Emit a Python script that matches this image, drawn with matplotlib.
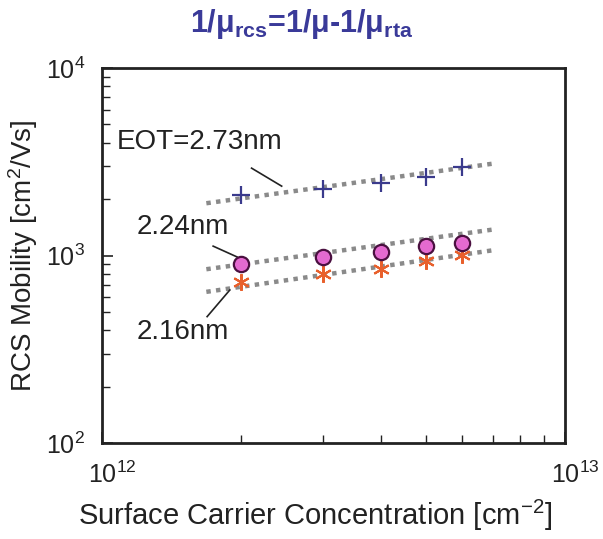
import math

import matplotlib
matplotlib.use("Agg")
import matplotlib.pyplot as plt
from matplotlib.ticker import LogLocator, FixedLocator, FuncFormatter, NullFormatter
from matplotlib.transforms import ScaledTranslation, blended_transform_factory

plt.rcParams["font.family"] = ["Liberation Sans", "DejaVu Sans"]
plt.rcParams["mathtext.fontset"] = "custom"
plt.rcParams["mathtext.rm"] = "Liberation Sans"
plt.rcParams["mathtext.default"] = "regular"

# surface carrier concentration [cm-2]
ns = [2e12, 3e12, 4e12, 5e12, 6e12]
# RCS mobility [cm2/Vs]
mu_273 = [2100, 2255, 2450, 2630, 2950]
mu_224 = [900, 985, 1045, 1125, 1160]
mu_216 = [725, 795, 845, 940, 1005]

# dotted fit lines (end points)
fit_x = [1.68e12, 7.05e12]
fit_273 = [1900, 3100]
fit_224 = [845, 1380]
fit_216 = [640, 1070]

x_major = [1e12, 1e13]
y_major = [1e2, 1e3, 1e4]

TXT = "#222222"

fig = plt.figure(figsize=(6.03, 5.39), dpi=100, facecolor="white")
ax = fig.add_axes([0.1692, 0.1781, 0.7678, 0.6957])
ax.set_xscale("log")
ax.set_yscale("log")
ax.set_xlim(1e12, 1e13)
ax.set_ylim(1e2, 1e4)

dot_style = dict(color="#8a8a8a", lw=3.2, ls=(0, (1, 1.2)), dash_capstyle="butt", zorder=2)
ax.plot(fit_x, fit_273, **dot_style)
ax.plot(fit_x, fit_224, **dot_style)
ax.plot(fit_x, fit_216, **dot_style)

ax.plot(ns, mu_273, ls="none", marker="+", ms=13, mew=1.6, color="#3a3a8c", zorder=3)
ax.plot(ns, mu_216, ls="none", marker=(6, 2, 0), ms=12, mew=1.5, color="#e8602c", zorder=3)
ax.plot(ns, mu_224, ls="none", marker="o", ms=11, mew=1.6, mfc="#e46ad0", mec="#4a1040", zorder=4)

# annotations
ax.text(0.032, 0.803, "EOT=2.73nm", transform=ax.transAxes, fontsize=20, va="center", ha="left", color=TXT)
ax.plot([0.323, 0.388], [0.733, 0.685], transform=ax.transAxes, color=TXT, lw=1.2)
ax.text(0.075, 0.577, "2.24nm", transform=ax.transAxes, fontsize=20, va="center", ha="left", color=TXT)
ax.plot([0.240, 0.292], [0.525, 0.496], transform=ax.transAxes, color=TXT, lw=1.2)
ax.text(0.075, 0.297, "2.16nm", transform=ax.transAxes, fontsize=20, va="center", ha="left", color=TXT)
ax.plot([0.227, 0.276], [0.337, 0.408], transform=ax.transAxes, color=TXT, lw=1.2)


def pow_fmt(v, pos=None):
    return r"$\mathregular{10^{%d}}$" % round(math.log10(v))


# ticks
ax.yaxis.set_major_locator(FixedLocator(y_major))
ax.yaxis.set_minor_locator(LogLocator(base=10, subs=range(2, 10)))
ax.yaxis.set_minor_formatter(NullFormatter())
ax.yaxis.set_major_formatter(FuncFormatter(pow_fmt))
ax.xaxis.set_major_locator(FixedLocator(x_major))
ax.xaxis.set_minor_locator(LogLocator(base=10, subs=range(2, 10)))
ax.xaxis.set_minor_formatter(NullFormatter())
ax.xaxis.set_major_formatter(NullFormatter())

ax.tick_params(axis="both", which="both", direction="in", top=False, right=False, colors=TXT)
ax.tick_params(axis="both", which="major", length=8, width=1.2, labelsize=18)
ax.tick_params(axis="both", which="minor", length=6, width=1.0)
ax.tick_params(axis="y", which="major", pad=12)
for spine in ax.spines.values():
    spine.set_linewidth(2)
    spine.set_color(TXT)

# x tick labels sit a little right of their ticks in the original
xlab_tr = blended_transform_factory(ax.transData, ax.transAxes) + ScaledTranslation(
    0.10, 0, fig.dpi_scale_trans)
for xv in x_major:
    ax.text(xv, -0.085, pow_fmt(xv), transform=xlab_tr, ha="center", va="center",
            fontsize=18, color=TXT)

ax.set_xlabel(r"Surface Carrier Concentration [cm$^{\mathregular{-2}}$]", fontsize=21, color=TXT)
ax.xaxis.set_label_coords(0.46, -0.192)
ax.xaxis.label.set_va("center")
ax.set_ylabel(r"RCS Mobility [cm$^{\mathregular{2}}$/Vs]", fontsize=20, color=TXT)
ax.yaxis.set_label_coords(-0.17, 0.50)
ax.yaxis.label.set_va("center")

fig.text(0.50, 0.955, r"$\mathregular{1/μ_{rcs}}$=$\mathregular{1/μ}$-$\mathregular{1/μ_{rta}}$",
         ha="center", va="center", fontsize=22, fontweight="bold", color="#3a3a99")

fig.savefig("out.png", dpi=100, facecolor="white")
